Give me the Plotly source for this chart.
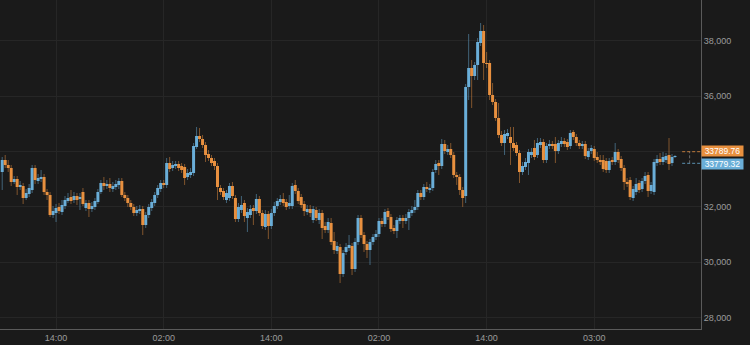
import plotly.graph_objects as go

# ---- data ----
opens = [
    33259, 33693, 33512, 33403, 32897, 33006, 32716, 32752, 32318, 32463,
    32608, 33403, 32933, 33006, 33078, 32535, 32427, 31703, 31775, 31993,
    31812, 32029, 32210, 32355, 32246, 32391, 32282, 32535, 31956, 32137,
    31920, 31993, 32174, 32535, 32861, 32752, 32825, 32644, 32716, 32789,
    32933, 32427, 32318, 32137, 31993, 31775, 31848, 31920, 31341, 31703,
    31956, 32137, 32427, 32644, 32861, 32789, 33584, 33403, 33476, 33548,
    33476, 33440, 33078, 33150, 33223, 34163, 34561, 34452, 34235, 33910,
    33765, 33657, 33476, 32680, 32572, 32246, 32318, 32752, 32318, 31559,
    31884, 32137, 31595, 31703, 31956, 31848, 32282, 31775, 31269, 31739,
    31305, 31775, 32029, 32174, 32282, 32174, 32029, 32029, 32789, 32572,
    32355, 32101, 31812, 31920, 31522, 31884, 31522, 31775, 31305, 31161,
    31414, 30763, 30401, 30545, 29569, 30365, 30509, 30582, 29750, 30726,
    31595, 30980, 30654, 30437, 30726, 30907, 31016, 31486, 31378, 31848,
    31630, 31233, 31124, 31486, 31595, 31486, 31595, 31775, 31884, 31993,
    32499, 32355, 32716, 32608, 32680, 33331, 33584, 33476, 34272, 33982,
    34091, 33874, 33150, 33078, 32608, 32391, 36333, 37020, 36731, 37129,
    37925, 38359, 37201, 37201, 36044, 35791, 35212, 34597, 34308, 34561,
    34525, 34308, 34235, 33946, 33259, 33440, 33584, 33874, 34127, 33874,
    34235, 34344, 33693, 34199, 34272, 34272, 34018, 34272, 34380, 34344,
    34199, 34706, 34525, 34308, 34199, 34272, 33801, 34018, 34091, 33801,
    33693, 33693, 33657, 33331, 33693, 33620, 33982, 33729, 33403, 32897,
    32969, 32318, 32535, 32861, 32644, 32933, 33150, 32572, 32535, 33584,
    33729, 33620, 33693, 33874, 33584, 33801,
]
closes = [
    33693, 33512, 33403, 32897, 33006, 32716, 32789, 32318, 32499, 32680,
    33403, 32969, 33042, 33078, 32535, 32427, 31703, 31848, 31956, 31848,
    32065, 32246, 32318, 32210, 32391, 32246, 32355, 32101, 32137, 31920,
    32029, 32210, 32535, 32861, 32752, 32825, 32680, 32752, 32825, 32933,
    32427, 32318, 32137, 31993, 31775, 31884, 31920, 31341, 31703, 31993,
    32174, 32427, 32680, 32861, 32789, 33584, 33367, 33512, 33548, 33403,
    33331, 33042, 33223, 33259, 34199, 34561, 34452, 34235, 33874, 33765,
    33584, 33476, 32716, 32535, 32355, 32499, 32752, 32391, 31559, 31993,
    32065, 31667, 31812, 31920, 31848, 32282, 31775, 31305, 31739, 31305,
    31775, 32029, 32210, 32282, 32137, 31993, 32137, 32752, 32572, 32210,
    32065, 31848, 31920, 31775, 31920, 31595, 31775, 31233, 31161, 31450,
    30726, 30437, 30582, 29569, 30328, 30545, 30618, 29750, 30726, 31595,
    30980, 30654, 30437, 30726, 30907, 31016, 31486, 31378, 31812, 31630,
    31197, 31124, 31522, 31595, 31486, 31595, 31812, 31884, 31993, 32499,
    32355, 32716, 32644, 32680, 33259, 33548, 33476, 34272, 34018, 34091,
    33874, 33150, 33078, 32608, 32318, 36333, 37020, 36731, 37129, 37961,
    38359, 37201, 37165, 36044, 35791, 35212, 34597, 34308, 34633, 34669,
    34308, 34127, 33946, 33259, 33476, 33620, 33982, 33982, 33801, 34308,
    34344, 33693, 34199, 34272, 34199, 34018, 34308, 34380, 34272, 34163,
    34669, 34525, 34308, 34199, 34272, 33837, 34018, 34127, 33765, 33693,
    33620, 33367, 33331, 33657, 33620, 33982, 33693, 33403, 32897, 32825,
    32355, 32644, 32825, 32608, 32933, 33114, 32572, 32789, 33620, 33729,
    33620, 33801, 33837, 33548, 33801, 33837,
]
highs = [
    33801, 33874, 33693, 33512, 33114, 33114, 32933, 32861, 32644, 32825,
    33512, 33512, 33186, 33331, 33186, 32644, 32535, 32029, 32101, 32137,
    32246, 32391, 32499, 32608, 32535, 32499, 32499, 32680, 32246, 32246,
    32174, 32318, 32644, 32969, 33078, 32969, 33042, 32897, 32969, 33042,
    33042, 32535, 32427, 32246, 32101, 32029, 32065, 32029, 31812, 32101,
    32282, 32535, 32789, 32969, 32969, 33765, 33801, 33657, 33657, 33657,
    33584, 33548, 33367, 33403, 34308, 34886, 34850, 34597, 34344, 34054,
    33874, 33765, 33584, 32789, 32680, 32608, 32861, 32897, 32427, 32137,
    32391, 32246, 31956, 32065, 32065, 32463, 32391, 31884, 31884, 31848,
    31920, 32174, 32318, 32427, 32499, 32282, 32427, 32861, 32969, 32680,
    32463, 32210, 32065, 32065, 32029, 31993, 31920, 31884, 31450, 31595,
    31595, 31088, 30726, 30654, 30437, 30690, 30980, 30690, 30871, 31703,
    31703, 31088, 30763, 30835, 31016, 31161, 31595, 31595, 31920, 31956,
    31739, 31341, 31630, 31703, 31703, 31739, 31920, 32029, 32246, 32608,
    32608, 32825, 32897, 32825, 33367, 33693, 33693, 34452, 34416, 34235,
    34308, 33982, 33259, 33186, 32716, 36442, 38250, 37310, 37237, 38106,
    38648, 38576, 37599, 37310, 36478, 35899, 35754, 34742, 34778, 34814,
    34886, 34886, 34344, 34054, 33620, 33765, 34091, 34127, 34416, 34489,
    34489, 34452, 34308, 34416, 34380, 34525, 34416, 34525, 34489, 34452,
    34778, 34778, 34633, 34416, 34380, 34380, 34127, 34235, 34199, 33982,
    33874, 33874, 33765, 33765, 33801, 34308, 34091, 33837, 33512, 33042,
    33078, 32752, 33042, 32969, 33042, 33259, 33259, 32897, 33729, 33874,
    33946, 33982, 33946, 34489, 33910, 33874,
]
lows = [
    32608, 33403, 33259, 32752, 32825, 32427, 32608, 32101, 32246, 32355,
    32499, 32825, 32825, 32897, 32427, 32246, 31630, 31595, 31450, 31739,
    31703, 31920, 32137, 32101, 32137, 32065, 31884, 32029, 31848, 31630,
    31812, 31884, 32101, 32463, 32608, 32644, 32535, 32535, 32608, 32644,
    32355, 32210, 31993, 31884, 31667, 31667, 31739, 30980, 31233, 31595,
    31848, 32029, 32318, 32535, 32680, 32680, 33259, 33295, 33367, 33295,
    33223, 32789, 32969, 33042, 33114, 34091, 34344, 34127, 33620, 33657,
    33476, 33331, 32246, 32427, 32246, 32137, 32210, 32282, 31450, 31450,
    31775, 31450, 31088, 31595, 31341, 31739, 31667, 31197, 31161, 30835,
    31197, 31667, 31920, 32065, 32029, 31884, 31920, 31920, 32463, 32101,
    31956, 31667, 31703, 31630, 31414, 31486, 31378, 30835, 31052, 31052,
    30618, 30292, 30292, 29244, 29461, 30256, 30401, 29533, 29642, 30618,
    30871, 30365, 30147, 29894, 30618, 30799, 30907, 31269, 31269, 31522,
    31088, 31016, 30871, 31378, 31233, 31378, 31161, 31667, 31775, 31884,
    32246, 32246, 32535, 32499, 32572, 33223, 33150, 33367, 33910, 33874,
    33765, 33042, 32789, 32427, 31993, 32137, 35863, 35574, 36586, 36586,
    37816, 36586, 37020, 35863, 35682, 35103, 34489, 34199, 33874, 34452,
    33512, 34018, 33837, 32861, 33150, 33331, 33150, 33765, 33693, 33765,
    34127, 33584, 33584, 34091, 34091, 33584, 33910, 34163, 34163, 34054,
    34091, 34416, 34199, 34091, 34091, 33729, 33693, 33910, 33657, 33584,
    33512, 33259, 33223, 33223, 33512, 33512, 33584, 33295, 32608, 32716,
    32246, 32210, 32427, 32499, 32535, 32825, 32355, 32463, 32427, 33476,
    33512, 33512, 33584, 33331, 33476, 33765,
]
x_tick_pos = [18, 54, 90, 126, 162, 198]
x_tick_labels = ["14:00", "02:00", "14:00", "02:00", "14:00", "03:00"]
y_ticks = [28000, 30000, 32000, 34000, 36000, 38000]
y_tick_labels = ["28,000", "30,000", "32,000", "", "36,000", "38,000"]
ask_price = "33789.76"
bid_price = "33779.32"

n = len(closes)
assert len(opens) == n and len(highs) == n and len(lows) == n, (len(opens), len(highs), len(lows), n)

# ---- styles ----
BG = "#1a1a1a"
UP_BODY = "#6aaed8"
UP_WICK = "rgba(106,174,216,0.5)"
DN_BODY = "#e8903f"
DN_WICK = "rgba(232,144,63,0.5)"
GRID = "#262626"
AXLINE = "#5a5a5a"
TXT = "#9a9a9a"
FONT = "Liberation Sans, Arial, sans-serif"


def segments(idx, a, b):
    xs, ys = [], []
    for i in idx:
        xs += [i, i, None]
        ys += [a[i], b[i], None]
    return xs, ys


up = [i for i in range(n) if closes[i] >= opens[i]]
dn = [i for i in range(n) if closes[i] < opens[i]]

fig = go.Figure()
for idx, wick_col in ((up, UP_WICK), (dn, DN_WICK)):
    xs, ys = segments(idx, lows, highs)
    fig.add_trace(go.Scatter(x=xs, y=ys, mode="lines", line=dict(color=wick_col, width=1),
                             hoverinfo="skip", showlegend=False))
for idx, body_col in ((up, UP_BODY), (dn, DN_BODY)):
    xs, ys = segments(idx, opens, closes)
    fig.add_trace(go.Scatter(x=xs, y=ys, mode="lines", line=dict(color=body_col, width=3),
                             hoverinfo="skip", showlegend=False))

# dashed price guides toward the labels
fig.add_shape(type="line", xref="x", yref="y", x0=n + 1.4, x1=n + 9, y0=33993, y1=33993,
              line=dict(color=DN_BODY, width=1, dash="3px,2px"), opacity=0.8)
fig.add_shape(type="line", xref="x", yref="y", x0=n + 1.4, x1=n + 9, y0=33573, y1=33573,
              line=dict(color=UP_BODY, width=1, dash="3px,2px"), opacity=0.8)
fig.add_shape(type="line", xref="x", yref="y", x0=n + 3.9, x1=n + 3.9, y0=33573, y1=33993,
              line=dict(color="#8a8a8a", width=1, dash="3px,2px"), opacity=0.7)

fig.add_annotation(text=ask_price, xref="paper", yref="paper", x=1.0, y=1 - 150.7 / 329,
                   xanchor="left", yanchor="middle", showarrow=False, bgcolor=DN_BODY,
                   width=41, height=10, borderpad=0, font=dict(family=FONT, size=8.5, color="#ffffff"))
fig.add_annotation(text=bid_price, xref="paper", yref="paper", x=1.0, y=1 - 164.0 / 329,
                   xanchor="left", yanchor="middle", showarrow=False, bgcolor=UP_BODY,
                   width=41, height=10, borderpad=0, font=dict(family=FONT, size=8.5, color="#ffffff"))

fig.update_layout(
    width=750, height=345,
    margin=dict(l=0, r=49, t=0, b=16),
    paper_bgcolor=BG, plot_bgcolor=BG,
    font=dict(family=FONT, size=9, color=TXT),
    showlegend=False,
    xaxis=dict(range=[-0.74, 233.7], tickvals=x_tick_pos, ticktext=x_tick_labels,
               showgrid=True, gridcolor=GRID, gridwidth=1, zeroline=False,
               showline=True, linecolor=AXLINE, linewidth=1, ticks="",
               tickfont=dict(family=FONT, size=9, color=TXT), fixedrange=True),
    yaxis=dict(side="right", range=[27580, 39480], tickvals=y_ticks, ticktext=y_tick_labels,
               showgrid=True, gridcolor=GRID, gridwidth=1, zeroline=False,
               showline=True, linecolor=AXLINE, linewidth=1, ticks="",
               tickfont=dict(family=FONT, size=9, color=TXT), fixedrange=True),
)

fig.write_html("out.html")
